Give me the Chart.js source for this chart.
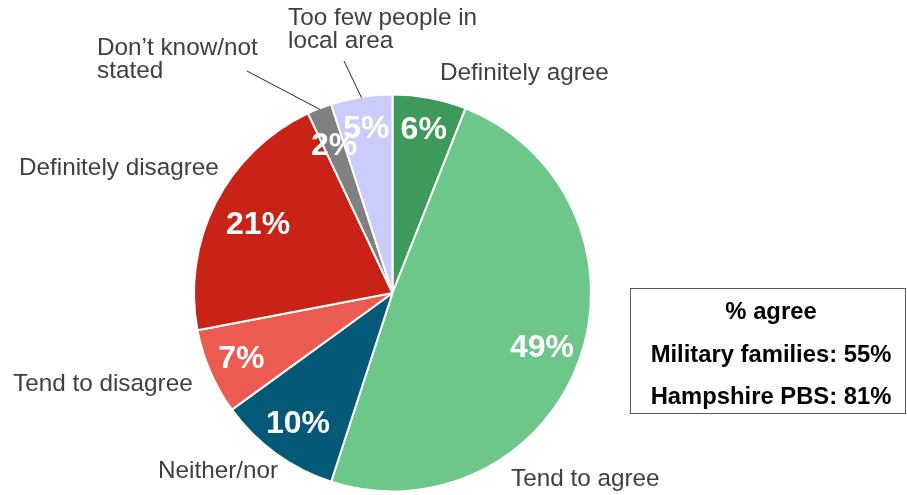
<!DOCTYPE html>
<html>
<head>
<meta charset="utf-8">
<script src="https://cdn.jsdelivr.net/npm/chart.js"></script>
<style>
  html, body { margin: 0; padding: 0; background: #fff; }
  #wrap { position: relative; width: 907px; height: 495px; }
</style>
</head>
<body>
<div id="wrap"><canvas id="grafica" width="907" height="495"></canvas></div>
<script>
// respuestas, empezando arriba y en sentido horario
const categorias = [
  "Definitely agree",
  "Tend to agree",
  "Neither/nor",
  "Tend to disagree",
  "Definitely disagree",
  "Don\u2019t know/not stated",
  "Too few people in local area"
];
const porcentajes = [6, 49, 10, 7, 21, 2, 5];
const colores = ["#3d9a5b", "#6dc68a", "#045a76", "#eb5b52", "#c92216", "#808080", "#ccccfc"];

// recuadro de la derecha
const tituloCaja = "% agree";
const lineasCaja = ["Military families: 55%", "Hampshire PBS: 81%"];

// etiquetas de fuera: líneas de texto, x izquierda, línea base
const etiquetas = [
  { lineas: ["Definitely agree"], x: 440, y: 80 },
  { lineas: ["Tend to agree"], x: 511, y: 486 },
  { lineas: ["Neither/nor"], x: 158, y: 478 },
  { lineas: ["Tend to disagree"], x: 13, y: 391 },
  { lineas: ["Definitely disagree"], x: 19, y: 175 },
  { lineas: ["Don\u2019t know/not", "stated"], x: 97, y: 55, guia: [247, 71] },
  { lineas: ["Too few people in", "local area"], x: 288, y: 25, guia: [344, 61] }
];
// distancia del porcentaje al centro (fracción del radio)
const radioTexto = [0.84, 0.8, 0.81, 0.83, 0.76, 0.8, 0.84];

const etiquetasPlugin = {
  id: "etiquetas",
  afterDatasetsDraw(chart) {
    const ctx = chart.ctx;
    const arcos = chart.getDatasetMeta(0).data;
    ctx.save();

    // líneas guía
    ctx.strokeStyle = "#262626";
    ctx.lineWidth = 1;
    arcos.forEach((arc, i) => {
      const e = etiquetas[i];
      if (!e.guia) return;
      const mid = (arc.startAngle + arc.endAngle) / 2;
      const px = arc.x + Math.cos(mid) * (arc.outerRadius - 1);
      const py = arc.y + Math.sin(mid) * (arc.outerRadius - 1);
      ctx.beginPath();
      ctx.moveTo(e.guia[0], e.guia[1]);
      ctx.lineTo(px, py);
      ctx.stroke();
    });

    // porcentajes dentro del sector
    ctx.fillStyle = "#ffffff";
    ctx.font = "bold 32px 'Liberation Sans', Arial, sans-serif";
    ctx.textAlign = "center";
    ctx.textBaseline = "middle";
    arcos.forEach((arc, i) => {
      const mid = (arc.startAngle + arc.endAngle) / 2;
      const r = arc.outerRadius * radioTexto[i];
      ctx.fillText(porcentajes[i] + "%", arc.x + Math.cos(mid) * r, arc.y + Math.sin(mid) * r + 1);
    });

    // nombres de categoría
    ctx.fillStyle = "#404040";
    ctx.font = "24.3px 'Liberation Sans', Arial, sans-serif";
    ctx.textAlign = "left";
    ctx.textBaseline = "alphabetic";
    etiquetas.forEach(e => {
      e.lineas.forEach((t, k) => ctx.fillText(t, e.x, e.y + k * 23));
    });

    // recuadro
    ctx.strokeStyle = "#595959";
    ctx.lineWidth = 1;
    ctx.strokeRect(630.5, 288.5, 275, 125);
    ctx.fillStyle = "#000000";
    ctx.font = "bold 23.8px 'Liberation Sans', Arial, sans-serif";
    ctx.textAlign = "center";
    ctx.textBaseline = "middle";
    ctx.fillText(tituloCaja, 771, 312);
    lineasCaja.forEach((t, k) => ctx.fillText(t, 771, 355 + k * 42));

    ctx.restore();
  }
};

new Chart(document.getElementById("grafica"), {
  type: "pie",
  data: {
    labels: categorias,
    datasets: [{
      data: porcentajes,
      backgroundColor: colores,
      borderColor: "#ffffff",
      borderWidth: 2
    }]
  },
  options: {
    responsive: false,
    animation: false,
    layout: { padding: { top: 93, bottom: 2, left: 193, right: 315 } },
    plugins: {
      legend: { display: false },
      tooltip: { enabled: false }
    }
  },
  plugins: [etiquetasPlugin]
});
</script>
</body>
</html>
